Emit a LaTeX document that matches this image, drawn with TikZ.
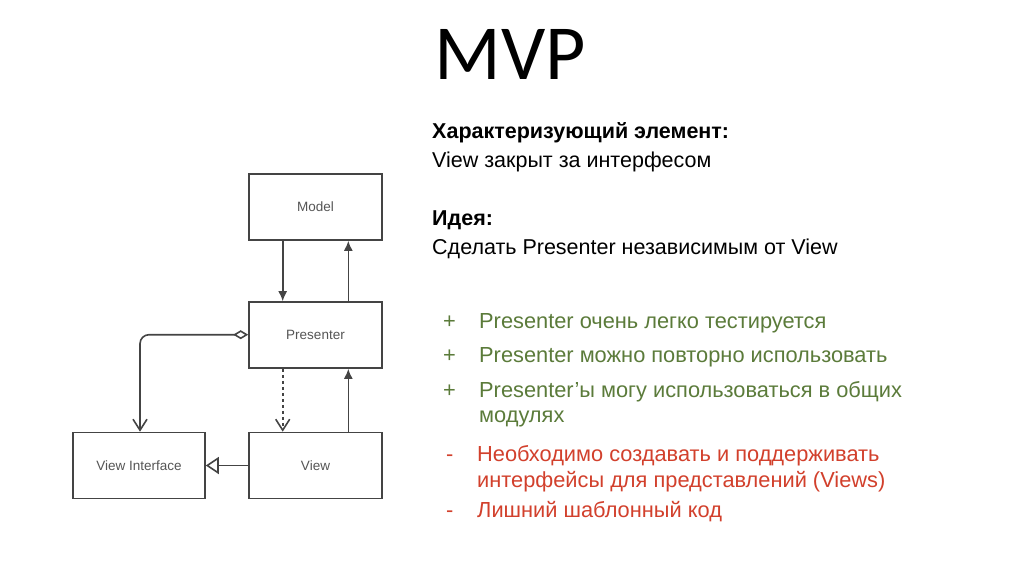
\documentclass[tikz,border=0pt]{standalone}
\usepackage{fontspec}
\setmainfont{Liberation Sans}
\newfontfamily\titlefont{Carlito}
\usetikzlibrary{arrows.meta}
\definecolor{boxline}{HTML}{444444}
\definecolor{boxtext}{HTML}{555555}
\definecolor{plusgreen}{HTML}{5B7B3A}
\definecolor{minusred}{HTML}{D2402C}
\tikzset{
  umlbox/.style={draw=boxline, line width=1.6pt, minimum width=133pt, minimum height=66pt, inner sep=0pt, text=boxtext, font=\fontsize{13.5}{15}\selectfont},
  conn/.style={draw=boxline, line width=1.6pt},
  txt/.style={anchor=base west, inner sep=0pt, font=\fontsize{21.5}{24}\selectfont},
  txtb/.style={txt, font=\fontsize{21.5}{24}\selectfont\bfseries},
  goodtxt/.style={anchor=base west, inner sep=0pt, text=plusgreen, font=\fontsize{21.8}{24}\selectfont},
  badtxt/.style={anchor=base west, inner sep=0pt, text=minusred, font=\fontsize{21.8}{24}\selectfont}
}
\begin{document}
\begin{tikzpicture}[x=1pt,y=-1pt]
\useasboundingbox[fill=white] (0,0) rectangle (1024,574);
% title
\node[font=\titlefont\fontsize{78}{80}\selectfont, inner sep=0pt, anchor=base] (title) at (510,79) {MVP};
% boxes
\node[umlbox] (model) at (315.5,207) {Model};
\node[umlbox] (pres) at (315.5,335) {Presenter};
\node[umlbox] (view) at (315.5,465.5) {View};
\node[umlbox, minimum width=132pt] (vi) at (139,465.5) {View Interface};
% connectors
\draw[conn, -{Latex[length=10pt,width=9pt]}] (model.south -| 282.7,0) -- (pres.north -| 282.7,0);
\draw[conn, -{Latex[length=10pt,width=9pt]}] (pres.north -| 348.3,0) -- (model.south -| 348.3,0);
\draw[conn, -{Latex[length=10pt,width=9pt]}] (view.north -| 348.3,0) -- (pres.south -| 348.3,0);
\draw[conn, dash pattern=on 3pt off 3pt, -{Straight Barb[length=11pt,width=14pt]}] (pres.south -| 282.7,0) -- (view.north -| 282.7,0);
\draw[conn, -{Triangle[open,length=13pt,width=17pt]}] (view.west) -- (vi.east);
\draw[conn, rounded corners=9pt, {Diamond[open,length=15pt,width=9pt]}-{Straight Barb[length=11pt,width=14pt]}] (pres.west |- 0,334.7) -| (vi.north -| 140,0);
% text
\node[txtb] (h1) at (432,138) {Характеризующий элемент:};
\node[txt] (l1) at (432,167) {View закрыт за интерфесом};
\node[txtb] (h2) at (432,225) {Идея:};
\node[txt] (l2) at (432,254) {Сделать Presenter независимым от View};
% pros
\node[goodtxt] (p1s) at (443,328) {+};
\node[goodtxt] (p1) at (479,328) {Presenter очень легко тестируется};
\node[goodtxt] (p2s) at (443,362) {+};
\node[goodtxt] (p2) at (479,362) {Presenter можно повторно использовать};
\node[goodtxt] (p3s) at (443,397) {+};
\node[goodtxt] (p3) at (479,397) {Presenter’ы могу использоваться в общих};
\node[goodtxt] (p3b) at (479,422) {модулях};
% cons
\node[badtxt] (m1s) at (446,461) {-};
\node[badtxt] (m1) at (477,461) {Необходимо создавать и поддерживать};
\node[badtxt] (m1b) at (477,487) {интерфейсы для представлений (Views)};
\node[badtxt] (m2s) at (446,517) {-};
\node[badtxt] (m2) at (477,517) {Лишний шаблонный код};
\end{tikzpicture}
\end{document}
